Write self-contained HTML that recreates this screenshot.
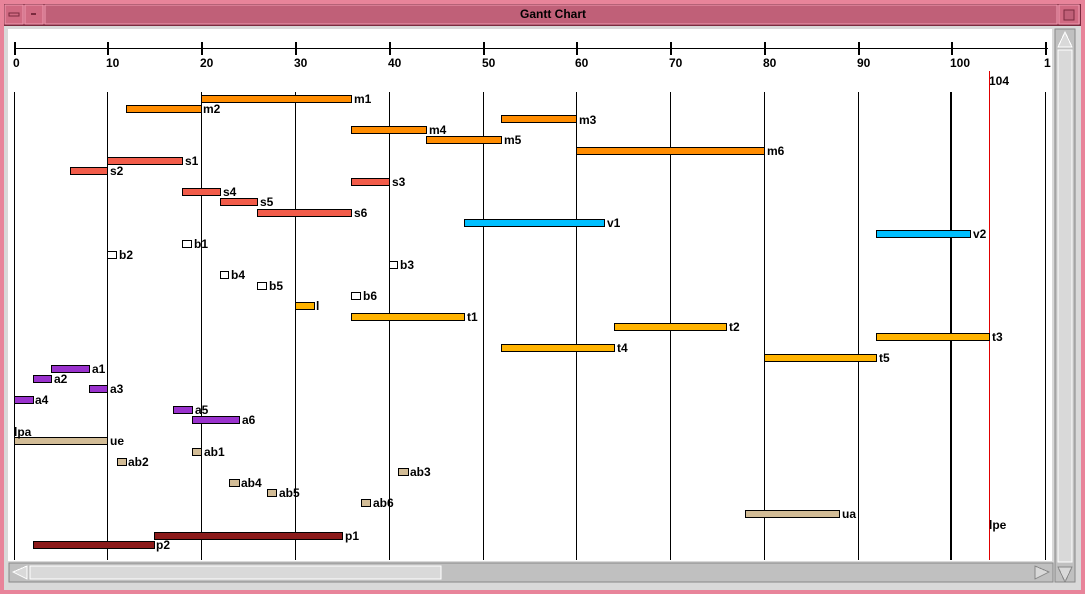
<!DOCTYPE html>
<html><head><style>
body{margin:0;width:1085px;height:594px;overflow:hidden;background:#c06078;}
svg{display:block}
line,rect,polygon{shape-rendering:crispEdges}
text{font-family:"Liberation Sans",sans-serif;font-weight:bold;font-size:12px;fill:#000}
</style></head><body>
<svg width="1085" height="594" xmlns="http://www.w3.org/2000/svg">
<rect x="0" y="0" width="1085" height="594" fill="#e8849a"/>
<rect x="4" y="4" width="1077" height="586" fill="#7a2a3e"/>
<rect x="5" y="5" width="1075" height="19" fill="#c06078"/>
<rect x="5" y="5" width="18" height="19" fill="#d06a82" stroke="#f09ab0"/>
<rect x="9" y="13" width="10" height="3" fill="#d06a82" stroke="#7a2a3e"/>
<rect x="25" y="5" width="18" height="19" fill="#d06a82" stroke="#f09ab0"/>
<rect x="31" y="13" width="5" height="2" fill="#7a2a3e"/>
<rect x="45" y="5" width="1012" height="19" fill="#c06078" stroke="#f09ab0"/>
<rect x="1059" y="5" width="20" height="19" fill="#d06a82" stroke="#f09ab0"/>
<rect x="1064" y="10" width="10" height="10" fill="#c06078" stroke="#7a2a3e"/>
<text x="553" y="18" text-anchor="middle" style="font-size:12px">Gantt Chart</text>
<rect x="4" y="26" width="1077" height="564" fill="#d9d9d9"/>
<rect x="8" y="29" width="1044" height="532" fill="#fff"/>
<rect x="9" y="563" width="1044" height="19" fill="#c0c0c0" stroke="#888"/>
<rect x="30" y="566" width="411" height="13" fill="#d9d9d9" stroke="#fff"/>
<polygon points="13,572 27,566 27,579" fill="#d9d9d9" stroke="#fff"/>
<polygon points="1049,572 1035,566 1035,579" fill="#d9d9d9" stroke="#888"/>
<rect x="1055" y="29" width="20" height="553" fill="#c0c0c0" stroke="#888"/>
<rect x="1058" y="50" width="14" height="512" fill="#d9d9d9" stroke="#fff"/>
<polygon points="1065,32 1058,47 1072,47" fill="#d9d9d9" stroke="#fff"/>
<polygon points="1065,582 1058,567 1072,567" fill="#d9d9d9" stroke="#888"/>
<line x1="14" y1="48.5" x2="1048" y2="48.5" stroke="#000"/>
<g stroke="#000" stroke-width="2">
<line x1="15" y1="42" x2="15" y2="55"/><line x1="108" y1="42" x2="108" y2="55"/>
<line x1="202" y1="42" x2="202" y2="55"/><line x1="296" y1="42" x2="296" y2="55"/>
<line x1="390" y1="42" x2="390" y2="55"/><line x1="484" y1="42" x2="484" y2="55"/>
<line x1="577" y1="42" x2="577" y2="55"/><line x1="671" y1="42" x2="671" y2="55"/>
<line x1="765" y1="42" x2="765" y2="55"/><line x1="859" y1="42" x2="859" y2="55"/>
<line x1="952" y1="42" x2="952" y2="55"/><line x1="1046" y1="42" x2="1046" y2="55"/>
</g>
<g>
<text x="13" y="67">0</text><text x="106" y="67">10</text><text x="200" y="67">20</text>
<text x="294" y="67">30</text><text x="388" y="67">40</text><text x="482" y="67">50</text>
<text x="575" y="67">60</text><text x="669" y="67">70</text><text x="763" y="67">80</text>
<text x="857" y="67">90</text><text x="950" y="67">100</text><text x="1044" y="67">1</text>
<text x="989" y="85">104</text>
</g>
<g stroke="#000">
<line x1="14.5" y1="92" x2="14.5" y2="560"/><line x1="107.5" y1="92" x2="107.5" y2="560"/>
<line x1="201.5" y1="92" x2="201.5" y2="560"/><line x1="295.5" y1="92" x2="295.5" y2="560"/>
<line x1="389.5" y1="92" x2="389.5" y2="560"/><line x1="483.5" y1="92" x2="483.5" y2="560"/>
<line x1="576.5" y1="92" x2="576.5" y2="560"/><line x1="670.5" y1="92" x2="670.5" y2="560"/>
<line x1="764.5" y1="92" x2="764.5" y2="560"/><line x1="858.5" y1="92" x2="858.5" y2="560"/>
<line x1="951" y1="92" x2="951" y2="560" stroke-width="2"/><line x1="1045.5" y1="92" x2="1045.5" y2="560"/>
</g>
<line x1="989.5" y1="71" x2="989.5" y2="560" stroke="#e00000"/>
<g stroke="#000" stroke-width="1">
<g fill="#ff8c00">
<rect x="201.5" y="95.5" width="150" height="7"/>
<rect x="126.5" y="105.5" width="75" height="7"/>
<rect x="501.5" y="115.5" width="75" height="7"/>
<rect x="351.5" y="126.5" width="75" height="7"/>
<rect x="426.5" y="136.5" width="75" height="7"/>
<rect x="576.5" y="147.5" width="188" height="7"/>
</g>
<g fill="#f25c4a">
<rect x="107.5" y="157.5" width="75" height="7"/>
<rect x="70.5" y="167.5" width="37" height="7"/>
<rect x="351.5" y="178.5" width="38" height="7"/>
<rect x="182.5" y="188.5" width="38" height="7"/>
<rect x="220.5" y="198.5" width="37" height="7"/>
<rect x="257.5" y="209.5" width="94" height="7"/>
</g>
<g fill="#00bfff">
<rect x="464.5" y="219.5" width="140" height="7"/>
<rect x="876.5" y="230.5" width="94" height="7"/>
</g>
<g fill="#fff">
<rect x="182.5" y="240.5" width="9" height="7"/>
<rect x="107.5" y="251.5" width="9" height="7"/>
<rect x="389.5" y="261.5" width="8" height="7"/>
<rect x="220.5" y="271.5" width="8" height="7"/>
<rect x="257.5" y="282.5" width="9" height="7"/>
<rect x="351.5" y="292.5" width="9" height="7"/>
</g>
<g fill="#ffb300">
<rect x="295.5" y="302.5" width="19" height="7"/>
<rect x="351.5" y="313.5" width="113" height="7"/>
<rect x="614.5" y="323.5" width="112" height="7"/>
<rect x="876.5" y="333.5" width="113" height="7"/>
<rect x="501.5" y="344.5" width="113" height="7"/>
<rect x="764.5" y="354.5" width="112" height="7"/>
</g>
<g fill="#9a32cd">
<rect x="51.5" y="365.5" width="38" height="7"/>
<rect x="33.5" y="375.5" width="18" height="7"/>
<rect x="89.5" y="385.5" width="18" height="7"/>
<rect x="14.5" y="396.5" width="19" height="7"/>
<rect x="173.5" y="406.5" width="19" height="7"/>
<rect x="192.5" y="416.5" width="47" height="7"/>
</g>
<g fill="#d2bc96">
<rect x="14.5" y="437.5" width="93" height="7"/>
<rect x="192.5" y="448.5" width="9" height="7"/>
<rect x="117.5" y="458.5" width="9" height="7"/>
<rect x="398.5" y="468.5" width="10" height="7"/>
<rect x="229.5" y="479.5" width="10" height="7"/>
<rect x="267.5" y="489.5" width="9" height="7"/>
<rect x="361.5" y="499.5" width="9" height="7"/>
<rect x="745.5" y="510.5" width="94" height="7"/>
</g>
<g fill="#8b1a1a">
<rect x="154.5" y="532.5" width="188" height="7"/>
<rect x="33.5" y="541.5" width="121" height="7"/>
</g>
</g>
<g>
<text x="354" y="103">m1</text><text x="203" y="113">m2</text><text x="579" y="124">m3</text>
<text x="429" y="134">m4</text><text x="504" y="144">m5</text><text x="767" y="155">m6</text>
<text x="185" y="165">s1</text><text x="110" y="175">s2</text><text x="392" y="186">s3</text>
<text x="223" y="196">s4</text><text x="260" y="206">s5</text><text x="354" y="217">s6</text>
<text x="607" y="227">v1</text><text x="973" y="238">v2</text>
<text x="194" y="248">b1</text><text x="119" y="259">b2</text><text x="400" y="269">b3</text>
<text x="231" y="279">b4</text><text x="269" y="290">b5</text><text x="363" y="300">b6</text>
<text x="316" y="310">l</text><text x="467" y="321">t1</text><text x="729" y="331">t2</text>
<text x="992" y="341">t3</text><text x="617" y="352">t4</text><text x="879" y="362">t5</text>
<text x="92" y="373">a1</text><text x="54" y="383">a2</text><text x="110" y="393">a3</text>
<text x="35" y="404">a4</text><text x="195" y="414">a5</text><text x="242" y="424">a6</text>
<text x="14" y="436">lpa</text><text x="110" y="445">ue</text>
<text x="204" y="456">ab1</text><text x="128" y="466">ab2</text><text x="410" y="476">ab3</text>
<text x="241" y="487">ab4</text><text x="279" y="497">ab5</text><text x="373" y="507">ab6</text>
<text x="842" y="518">ua</text><text x="989" y="529">lpe</text>
<text x="345" y="540">p1</text><text x="156" y="549">p2</text>
</g>
</svg>
</body></html>
